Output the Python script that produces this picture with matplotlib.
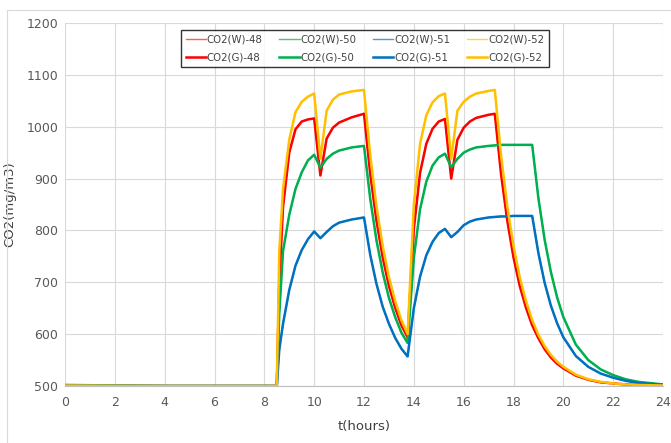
import matplotlib.pyplot as plt
from matplotlib.patches import Rectangle

# time axis (hours) shared by all series
t = [0, 4, 8.5, 8.6, 8.75, 9.0, 9.25, 9.5, 9.75, 10.0, 10.25, 10.5, 10.75, 11.0,
     11.5, 12.0, 12.25, 12.5, 12.75, 13.0, 13.25, 13.5, 13.75, 14.0, 14.25,
     14.5, 14.75, 15.0, 15.25, 15.5, 15.75, 16.0, 16.25, 16.5, 17.0, 17.25,
     17.5, 17.75, 18.0, 18.25, 18.5, 18.75, 19.0, 19.25, 19.5, 19.75, 20.0,
     20.5, 21.0, 21.5, 22.0, 22.5, 23.0, 24.0]

co2_48 = [501, 500, 500, 700, 845, 950, 995, 1010, 1014, 1016, 906, 977, 998,
          1008, 1018, 1025, 909, 819, 748, 693, 651, 617, 594, 803, 911,
          967, 996, 1010, 1015, 900, 975, 998, 1010, 1017, 1023, 1025,
          909, 819, 748, 693, 651, 617, 592, 571, 555, 543, 534,
          520, 512, 507, 505, 503, 502, 501]

co2_50 = [502, 500, 500, 640, 760, 830, 880, 912, 935, 946, 921, 938, 948,
          954, 960, 963, 861, 781, 719, 670, 633, 603, 583, 747, 841,
          894, 925, 941, 948, 922, 938, 950, 956, 960, 963, 964,
          965, 965, 965, 965, 965, 965, 862, 782, 720, 671, 633,
          580, 550, 532, 521, 513, 508, 503]

co2_51 = [501, 500, 500, 570, 620, 685, 732, 762, 783, 798, 785, 797, 808,
          815, 821, 825, 753, 697, 653, 620, 593, 572, 557, 650, 711,
          752, 778, 795, 803, 787, 797, 810, 817, 821, 825, 826,
          827, 827, 828, 828, 828, 828, 756, 699, 655, 621, 594,
          558, 537, 524, 516, 510, 506, 502]

co2_52 = [501, 500, 500, 760, 880, 975, 1028, 1048, 1058, 1064, 938, 1031, 1052,
          1062, 1068, 1071, 945, 847, 770, 710, 664, 627, 600, 850, 967,
          1022, 1047, 1059, 1064, 938, 1031, 1048, 1058, 1064, 1069, 1071,
          945, 847, 770, 710, 664, 627, 599, 577, 560, 547, 537,
          522, 513, 508, 505, 503, 502, 501]

names = ['48', '50', '51', '52']
series = [co2_48, co2_50, co2_51, co2_52]
w_colors = ['#FF5B5B', '#4CC27A', '#4A9BDB', '#FFD24D']
g_colors = ['#FF0000', '#00B050', '#0070C0', '#FFC000']

fig = plt.figure(figsize=(6.71, 4.43), dpi=100)
ax = fig.add_axes([65 / 671, 57 / 443, 598 / 671, 363 / 443])

# outer chart frame (Excel-like)
fig.patches.append(Rectangle((7 / 671, -0.1), 1.2, 1.0 - 10 / 443 + 0.1,
                             transform=fig.transFigure, fill=False,
                             edgecolor='#D9D9D9', linewidth=0.8))

handles = []
for n, s, wc, gc in zip(names, series, w_colors, g_colors):
    hw, = ax.plot(t, s, color=wc, linewidth=1.0, label='CO2(W)-%s' % n, zorder=2)
    hg, = ax.plot(t, s, color=gc, linewidth=1.8, label='CO2(G)-%s' % n, zorder=3)
    handles += [hw, hg]   # legend fills column by column

ax.set_xlim(0, 24)
ax.set_ylim(500, 1200)
ax.set_xticks(range(0, 25, 2))
ax.set_yticks(range(500, 1201, 100))
ax.grid(True, color='#D9D9D9', linewidth=0.8)
ax.set_axisbelow(True)
for sp in ['top', 'right', 'left']:
    ax.spines[sp].set_visible(False)
ax.spines['bottom'].set_color('#BFBFBF')
ax.tick_params(axis='both', length=0, labelsize=9, labelcolor='#595959')
ax.tick_params(axis='x', pad=7)
ax.tick_params(axis='y', pad=5)

ax.set_xlabel('t(hours)', fontsize=9.5, color='#404040', labelpad=8)
ax.set_ylabel('CO2(mg/m3)', fontsize=9.5, color='#404040', labelpad=7)

leg = ax.legend(handles=handles, ncol=4, loc='upper left',
                bbox_to_anchor=(0.194, 0.876, 0.615, 0.105), mode='expand',
                fontsize=7.3, frameon=True, fancybox=False, handlelength=2.0,
                handletextpad=0.1, columnspacing=0.8, borderaxespad=0,
                labelspacing=0.75, borderpad=0.45, labelcolor='#404040')
leg.get_frame().set_edgecolor('black')
leg.get_frame().set_linewidth(1.0)

fig.savefig('out.png', dpi=100)
